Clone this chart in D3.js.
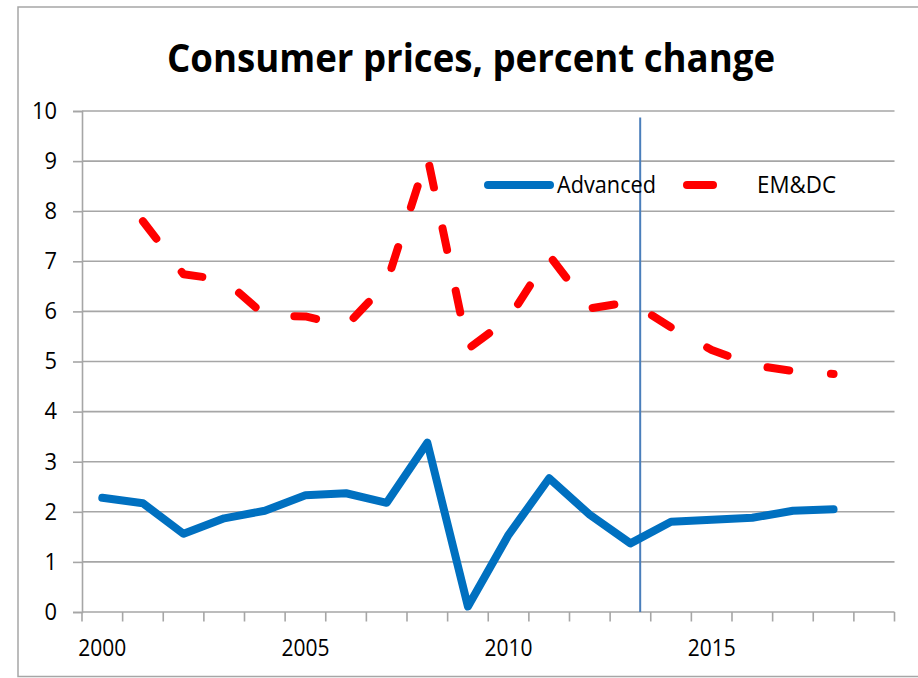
<!DOCTYPE html>
<html>
<head>
<meta charset="utf-8">
<script src="https://cdn.jsdelivr.net/npm/d3@7"></script>
<style>
  body { margin: 0; background: #fff; }
  svg text { font-family: "Open Sans", "DejaVu Sans Condensed", sans-serif; fill: #000; }
</style>
</head>
<body>
<div id="chart"></div>
<script>
// Data
const years = d3.range(2000, 2020)
const labelYears = [2000, 2005, 2010, 2015]
const yTicks = [0, 1, 2, 3, 4, 5, 6, 7, 8, 9, 10]
// Advanced economies, 2000-2018
const advanced = [2.28, 2.17, 1.56, 1.87, 2.02, 2.33, 2.37, 2.18, 3.38, 0.11,
	1.54, 2.67, 1.94, 1.37, 1.80, 1.84, 1.88, 2.02, 2.05, null]
// Emerging market and developing countries, 2001-2018
const emdc = [null, 7.80, 6.74, 6.63, 5.92, 5.90, 5.71, 6.57, 9.10, 5.25,
	5.85, 7.12, 6.06, 6.19, 5.68, 5.23, 4.93, 4.81, 4.75, null]
const seriesNames = ["Advanced", "EM&DC"]
// projections start here (vertical marker)
const markerYear = 2013.24
const markerTop = 9.87

const width = 918, height = 678
const plot = { left: 82, right: 894.5, top: 111, bottom: 612 }

const svg = d3.select("#chart").append("svg")
	.attr("width", width)
	.attr("height", height)

// outer border of the chart box
svg.append("rect")
	.attr("x", 18).attr("y", 7)
	.attr("width", 940).attr("height", 669.5)
	.attr("fill", "none")
	.attr("stroke", "#a6a6a6")
	.attr("stroke-width", 1.5)

// Title
svg.append("text")
	.attr("x", 471).attr("y", 72)
	.attr("text-anchor", "middle")
	.attr("font-size", "39px")
	.attr("font-weight", "bold")
	.attr("textLength", 608)
	.attr("lengthAdjust", "spacingAndGlyphs")
	.text("Consumer prices, percent change")

// Scales
const xScale = d3.scaleBand()
	.domain(years)
	.range([plot.left, plot.right])
	.padding(0)

const xCenter = (yr) => xScale(yr) + xScale.bandwidth() / 2

const xLinear = d3.scaleLinear()
	.domain([2000, 2019])
	.range([xCenter(2000), xCenter(2019)])

const yScale = d3.scaleLinear()
	.domain([0, 10])
	.range([plot.bottom, plot.top])

// Gridlines
svg.append("g").selectAll("line")
	.data(yTicks.filter(d => d > 0))
	.join("line")
	.attr("x1", plot.left).attr("x2", plot.right)
	.attr("y1", d => yScale(d)).attr("y2", d => yScale(d))
	.attr("stroke", "#a6a6a6")
	.attr("stroke-width", 1.6)

// Y Axis
const yAxis = d3.axisLeft(yScale)
	.tickValues(yTicks)
	.tickSize(9)
	.tickPadding(16)
const yAxisGroup = svg.append("g")
	.attr("transform", `translate(${plot.left},0)`)
	.call(yAxis)
yAxisGroup.select(".domain").attr("stroke", "#a6a6a6").attr("stroke-width", 1.6)
yAxisGroup.selectAll(".tick line").attr("stroke", "#a6a6a6").attr("stroke-width", 1.6)
yAxisGroup.selectAll(".tick text")
	.attr("font-size", "23px")
	.attr("font-family", null)
	.attr("textLength", d => d >= 10 ? 25 : 12.5)
	.attr("lengthAdjust", "spacingAndGlyphs")

// X Axis: ticks between categories, labels every 5 years
const xAxisGroup = svg.append("g")
xAxisGroup.append("line")
	.attr("x1", plot.left).attr("x2", plot.right)
	.attr("y1", yScale(0)).attr("y2", yScale(0))
	.attr("stroke", "#a6a6a6")
	.attr("stroke-width", 1.6)
xAxisGroup.selectAll(".xtick")
	.data(years.concat([null]))
	.join("line")
	.attr("class", "xtick")
	.attr("x1", d => d === null ? plot.right : xScale(d))
	.attr("x2", d => d === null ? plot.right : xScale(d))
	.attr("y1", yScale(0)).attr("y2", yScale(0) + 9.5)
	.attr("stroke", "#a6a6a6")
	.attr("stroke-width", 1.6)
xAxisGroup.selectAll(".xlabel")
	.data(labelYears)
	.join("text")
	.attr("class", "xlabel")
	.attr("x", d => xCenter(d))
	.attr("y", 656)
	.attr("text-anchor", "middle")
	.attr("font-size", "23px")
	.attr("textLength", 48)
	.attr("lengthAdjust", "spacingAndGlyphs")
	.text(d => d)

// Projection marker
svg.append("line")
	.attr("x1", xLinear(markerYear)).attr("x2", xLinear(markerYear))
	.attr("y1", yScale(markerTop)).attr("y2", yScale(0))
	.attr("stroke", "#4a7ebb")
	.attr("stroke-width", 2)

// Lines
const line = d3.line()
	.defined(d => d.v !== null)
	.x(d => xCenter(d.year))
	.y(d => yScale(d.v))

const advData = years.map((yr, i) => ({ year: yr, v: advanced[i] }))
const emData = years.map((yr, i) => ({ year: yr, v: emdc[i] }))

svg.append("path")
	.datum(emData)
	.attr("d", line)
	.attr("fill", "none")
	.attr("stroke", "#ff0000")
	.attr("stroke-width", 8)
	.attr("stroke-linecap", "round")
	.attr("stroke-linejoin", "round")
	.attr("stroke-dasharray", "22,41.8")

svg.append("path")
	.datum(advData)
	.attr("d", line)
	.attr("fill", "none")
	.attr("stroke", "#0070c0")
	.attr("stroke-width", 8)
	.attr("stroke-linecap", "round")
	.attr("stroke-linejoin", "round")

// Legend
const legend = svg.append("g")
legend.append("line")
	.attr("x1", 488).attr("x2", 550)
	.attr("y1", 185).attr("y2", 185)
	.attr("stroke", "#0070c0")
	.attr("stroke-width", 8)
	.attr("stroke-linecap", "round")
legend.append("text")
	.attr("x", 557).attr("y", 193)
	.attr("font-size", "23px")
	.attr("textLength", 99)
	.attr("lengthAdjust", "spacingAndGlyphs")
	.text(seriesNames[0])
legend.append("line")
	.attr("x1", 687).attr("x2", 713)
	.attr("y1", 185).attr("y2", 185)
	.attr("stroke", "#ff0000")
	.attr("stroke-width", 8)
	.attr("stroke-linecap", "round")
legend.append("text")
	.attr("x", 757).attr("y", 193)
	.attr("font-size", "23px")
	.attr("textLength", 79)
	.attr("lengthAdjust", "spacingAndGlyphs")
	.text(seriesNames[1])
</script>
</body>
</html>
